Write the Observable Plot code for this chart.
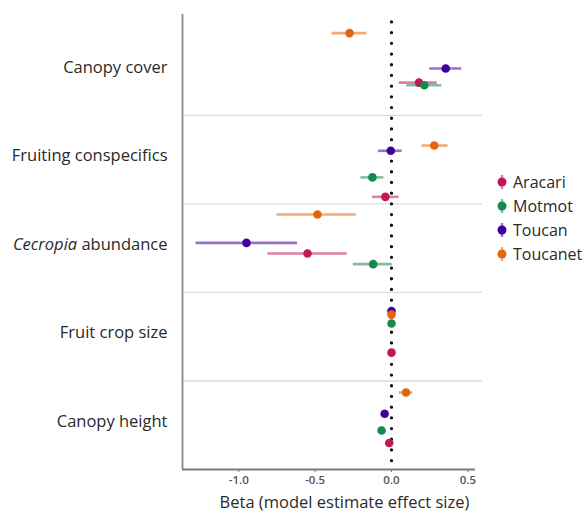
<!DOCTYPE html>
<html>
<head>
<meta charset="utf-8">
<script src="https://cdn.jsdelivr.net/npm/d3@7"></script>
<script src="https://cdn.jsdelivr.net/npm/@observablehq/plot@0.6"></script>
<style>
  html, body { margin: 0; padding: 0; background: #fff; }
  #wrap { position: relative; width: 587px; height: 517px; font-family: "Open Sans", sans-serif; }
  #legend { position: absolute; left: 496px; top: 170px; }
  .item { display: flex; align-items: center; height: 24px; font-size: 16px; color: #2a2a2a; }
  .item svg { margin-right: 5px; }
</style>
</head>
<body>
<div id="wrap"></div>
<script>
// ---- data ----
const factors = ["Canopy cover", "Fruiting conspecifics", "Cecropia abundance", "Fruit crop size", "Canopy height"];
const species = ["Aracari", "Motmot", "Toucan", "Toucanet"];
const speciesColors = ["#C2185B", "#17894F", "#40009A", "#E2660B"];

// estimates per species, in factor order
const aracariBeta = [0.18, -0.04, -0.55, 0.0, -0.015];
const aracariLow  = [0.05, -0.125, -0.81, -0.01, -0.03];
const aracariHigh = [0.30, 0.05, -0.29, 0.01, 0.0];

const motmotBeta = [0.215, -0.125, -0.12, 0.0, -0.065];
const motmotLow  = [0.10, -0.20, -0.25, -0.01, -0.08];
const motmotHigh = [0.33, -0.05, 0.005, 0.01, -0.05];

const toucanBeta = [0.355, -0.005, -0.95, 0.0, -0.045];
const toucanLow  = [0.25, -0.085, -1.28, -0.01, -0.06];
const toucanHigh = [0.46, 0.07, -0.615, 0.01, -0.03];

const toucanetBeta = [-0.275, 0.28, -0.485, 0.0, 0.095];
const toucanetLow  = [-0.39, 0.20, -0.75, -0.01, 0.05];
const toucanetHigh = [-0.16, 0.37, -0.23, 0.01, 0.14];

// vertical position of each estimate inside its factor row (0 = top, 1 = bottom)
const aracariRow  = [0.63, 0.92, 0.56, 0.68, 0.70];
const motmotRow   = [0.66, 0.70, 0.68, 0.35, 0.56];
const toucanRow   = [0.47, 0.40, 0.44, 0.21, 0.37];
const toucanetRow = [0.07, 0.34, 0.12, 0.25, 0.13];

const xTicks = [-1.0, -0.5, 0.0, 0.5];

// ---- build table ----
const series = {
  Aracari: [aracariBeta, aracariLow, aracariHigh, aracariRow],
  Motmot: [motmotBeta, motmotLow, motmotHigh, motmotRow],
  Toucan: [toucanBeta, toucanLow, toucanHigh, toucanRow],
  Toucanet: [toucanetBeta, toucanetLow, toucanetHigh, toucanetRow]
};
const rows = [];
for (const s of species) {
  const [b, lo, hi, r] = series[s];
  factors.forEach((f, i) => rows.push({species: s, factor: f, beta: b[i], low: lo[i], high: hi[i], pos: i + r[i]}));
}

const W = 587, H = 517;
const xDomain = [-1.369, 0.596];
const yDomain = [-0.14, factors.length];
const font = "'Open Sans', sans-serif";

const chart = Plot.plot({
  width: W,
  height: H,
  marginLeft: 182,
  marginRight: 105,
  marginTop: 14,
  marginBottom: 48,
  style: {fontFamily: font, background: "#fff", overflow: "visible"},
  x: {domain: xDomain, ticks: xTicks},
  y: {domain: yDomain, reverse: true, axis: null},
  color: {domain: species, range: speciesColors, type: "ordinal"},
  marks: [
    // row separators
    Plot.ruleY(d3.range(1, factors.length), {stroke: "#dcdcdc", strokeWidth: 1.3}),
    // zero line (dotted)
    Plot.ruleX([0], {y1: -0.05, y2: factors.length, stroke: "#111", strokeWidth: 3.3, strokeDasharray: "0 10.7", strokeLinecap: "round"}),
    // axis lines
    Plot.ruleX([xDomain[0]], {stroke: "#8a8a8a", strokeWidth: 1.8}),
    Plot.ruleY([factors.length], {x1: xDomain[0], x2: 0.55, stroke: "#7a7a7a", strokeWidth: 1.8}),
    // confidence intervals
    Plot.ruleY(rows, {y: "pos", x1: "low", x2: "high", stroke: "species", strokeOpacity: 0.55, strokeWidth: 2.6}),
    // estimates
    Plot.dot(rows, {x: "beta", y: "pos", fill: "species", r: 4.3, stroke: "none"}),
    // x axis
    Plot.axisX({ticks: xTicks, tickFormat: d => d.toFixed(1), tickSize: 3, tickPadding: 3, fontSize: 11.5, fontWeight: 600, color: "#555", stroke: "#7a7a7a", label: null}),
    Plot.text(["Beta (model estimate effect size)"], {frameAnchor: "bottom", dy: 38, dx: 12, fontSize: 16.5, fill: "#2a2a2a"}),
    // factor labels
    Plot.text(factors, {frameAnchor: "left", y: (d, i) => i + 0.46, textAnchor: "end", dx: -15, fontSize: 16.5, fill: "#2a2a2a"})
  ]
});

// italicise the genus name
d3.select(chart).selectAll("text").each(function() {
  if (this.textContent === "Cecropia abundance") {
    const t = d3.select(this);
    t.text(null);
    t.append("tspan").attr("font-style", "italic").text("Cecropia");
    t.append("tspan").text(" abundance");
  }
});

const wrap = document.getElementById("wrap");
wrap.appendChild(chart);

// legend
const legend = document.createElement("div");
legend.id = "legend";
species.forEach((s, i) => {
  const item = document.createElement("div");
  item.className = "item";
  const c = speciesColors[i];
  item.innerHTML = `<svg width="12" height="18"><line x1="6" x2="6" y1="2" y2="16" stroke="${c}" stroke-opacity="0.55" stroke-width="2.4"/><circle cx="6" cy="9" r="4.5" fill="${c}"/></svg><span></span>`;
  item.querySelector("span").textContent = s;
  legend.appendChild(item);
});
wrap.appendChild(legend);
</script>
</body>
</html>
